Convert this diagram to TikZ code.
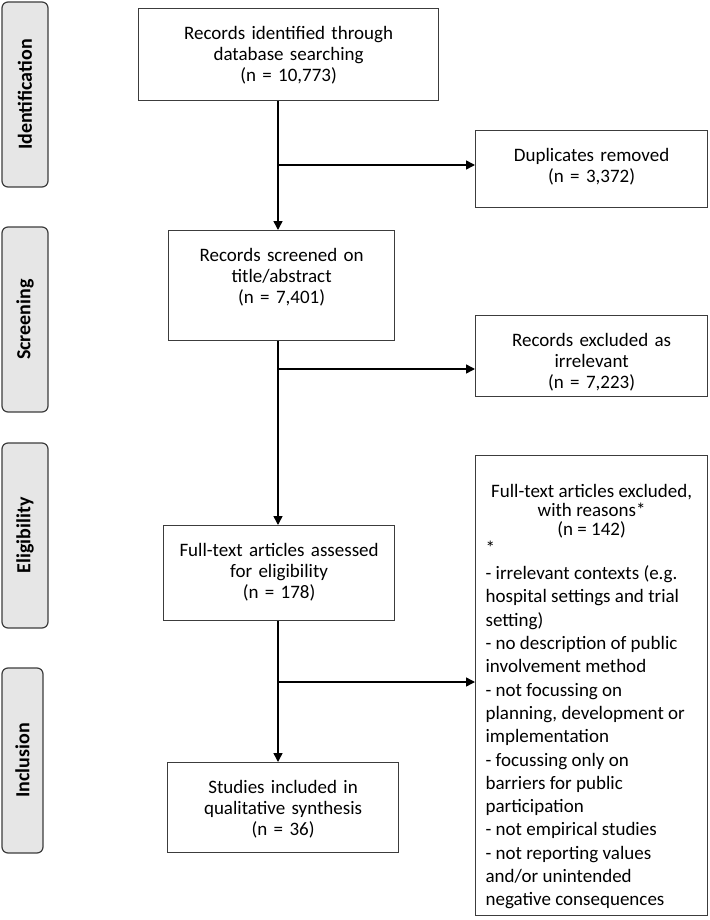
\documentclass[tikz,border=0pt]{standalone}
\usepackage{fontspec}
\setmainfont{Carlito}
\usetikzlibrary{arrows.meta,calc}
\definecolor{BoxClr}{HTML}{3C3C3C}
\definecolor{TabClr}{HTML}{E6E6E6}

\begin{document}
\begin{tikzpicture}[x=1pt,y=-1pt,
  box/.style={draw=BoxClr,line width=1.2pt,align=center,anchor=north west,
    inner xsep=0pt,inner ysep=0pt,text height=31pt,
    font=\fontsize{19}{21}\selectfont},
  tab/.style={draw=BoxClr,fill=TabClr,line width=1.2pt,rounded corners=6pt,
    rotate=90,minimum width=185pt,font=\fontsize{20}{22}\selectfont\bfseries},
  flow/.style={line width=1.5pt,-{Triangle[length=9pt,width=9pt]}}]

\useasboundingbox (0,0) rectangle (709,920);

\node[tab,minimum height=46pt] (tabid) at (25,94.5) {Identification};
\node[tab,minimum height=46pt] (tabsc) at (25,319.5) {Screening};
\node[tab,minimum height=46pt] (tabel) at (25,535.5) {Eligibility};
\node[tab,minimum height=41pt] (tabin) at (22.5,760.5) {Inclusion};

\node[box,text width=300pt,text depth=61pt] (ident) at (138,8)
  {Records identified through\\ database searching\\ (n = 10,773)};
\node[box,text width=232pt,text depth=46pt] (dup) at (475,130)
  {Duplicates removed\\ (n = 3,372)};
\node[box,text width=226pt,text depth=79pt] (screen) at (168,230)
  {Records screened on\\ title/abstract\\ (n = 7,401)};
\node[box,text width=232pt,text depth=50pt] (excl) at (475,315)
  {Records excluded as\\ irrelevant\\ (n = 7,223)};
\node[box,text width=231pt,text depth=64pt] (full) at (163,525)
  {Full-text articles assessed\\ for eligibility\\ (n = 178)};
\node[box,text width=231pt,text depth=59pt] (incl) at (167,762)
  {Studies included in\\ qualitative synthesis\\ (n = 36)};
\node[box,align=none,inner xsep=10pt,text width=212pt,text height=42pt,
  text depth=418pt] (reasons) at (475,455)
  {\fontsize{19}{19}\selectfont
  {\centering Full-text articles excluded,\\ with reasons*\\ (n = 142)\par}
  \raggedright *\par
  \fontsize{19}{23.3}\selectfont
  \vspace{1.7pt}- irrelevant contexts (e.g.\\ hospital settings and trial\\
  setting)\\ - no description of public\\ involvement method\\
  - not focussing on\\ planning, development or\\ implementation\\
  - focussing only on\\ barriers for public\\ participation\\
  - not empirical studies\\ - not reporting values\\ and/or unintended\\
  negative consequences\par};

\coordinate (b1) at (278,165);
\coordinate (b2) at (278,369);
\coordinate (b3) at (278,682);

\draw[flow] (ident.south -| b1) -- (screen.north -| b1);
\draw[flow] (b1) -- (b1 -| dup.west);
\draw[flow] (screen.south -| b2) -- (full.north -| b2);
\draw[flow] (b2) -- (b2 -| excl.west);
\draw[flow] (full.south -| b3) -- (incl.north -| b3);
\draw[flow] (b3) -- (b3 -| reasons.west);

\end{tikzpicture}
\end{document}
